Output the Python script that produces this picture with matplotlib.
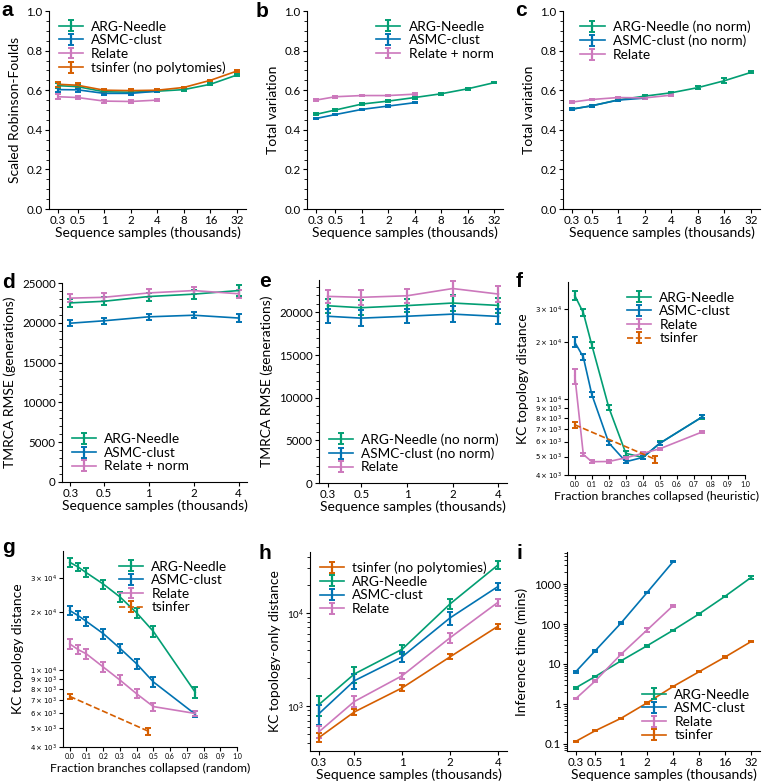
import matplotlib
matplotlib.use('Agg')
import matplotlib.pyplot as plt
from matplotlib.ticker import AutoMinorLocator, FixedLocator, NullLocator, FixedFormatter
from matplotlib.container import ErrorbarContainer
from matplotlib.legend_handler import HandlerErrorbar

plt.rcParams['font.family'] = ['Lato', 'DejaVu Sans']
plt.rcParams['mathtext.fontset'] = 'dejavusans'

GREEN = '#029e73'
BLUE = '#0173b2'
PINK = '#cc78bc'
ORANGE = '#d55e00'

# sample sizes (thousands)
n8 = [0.3, 0.5, 1, 2, 4, 8, 16, 32]
n5 = [0.3, 0.5, 1, 2, 4]
n_labels = ['0.3', '0.5', '1', '2', '4', '8', '16', '32']

# a: scaled Robinson-Foulds
a_argn = [0.623, 0.618, 0.592, 0.590, 0.595, 0.603, 0.630, 0.677]
a_argn_err = [0.012, 0.010, 0.008, 0.008, 0.006, 0.005, 0.005, 0.005]
a_asmc = [0.603, 0.602, 0.584, 0.584, 0.595]
a_asmc_err = [0.012, 0.010, 0.009, 0.008, 0.006]
a_relate = [0.567, 0.563, 0.545, 0.543, 0.550]
a_relate_err = [0.012, 0.008, 0.008, 0.007, 0.005]
a_tsinfer = [0.630, 0.625, 0.600, 0.598, 0.600, 0.614, 0.650, 0.697]
a_tsinfer_err = [0.012, 0.010, 0.008, 0.006, 0.005, 0.004, 0.004, 0.004]

# b: total variation (Relate normalised)
b_argn = [0.478, 0.500, 0.530, 0.545, 0.563, 0.582, 0.607, 0.638]
b_asmc = [0.457, 0.477, 0.503, 0.520, 0.537]
b_relate = [0.550, 0.567, 0.573, 0.573, 0.580]
b_err8 = [0.005, 0.005, 0.004, 0.006, 0.005, 0.004, 0.004, 0.004]
b_err5 = [0.004, 0.004, 0.004, 0.004, 0.004]

# c: total variation (no norm)
c_argn = [0.505, 0.521, 0.551, 0.570, 0.587, 0.613, 0.648, 0.690]
c_argn_err = [0.005, 0.005, 0.006, 0.008, 0.006, 0.006, 0.012, 0.005]
c_asmc = [0.504, 0.521, 0.550, 0.560]
c_relate = [0.540, 0.553, 0.563, 0.561, 0.575]

# d: TMRCA RMSE (Relate normalised)
d_argn = [22500, 22700, 23300, 23600, 24050]
d_argn_err = [500, 500, 500, 550, 700]
d_asmc = [19950, 20250, 20750, 20950, 20600]
d_asmc_err = [400, 400, 400, 400, 450]
d_relate = [23100, 23200, 23750, 24050, 23650]
d_relate_err = [500, 500, 500, 450, 500]

# e: TMRCA RMSE (no norm)
e_argn = [20780, 20550, 20800, 21100, 20820]
e_asmc = [19550, 19330, 19550, 19800, 19530]
e_relate = [21880, 21770, 21950, 22800, 22150]
e_err = [800, 900, 800, 900, 900]

# f, g: KC topology distance vs fraction of branches collapsed
frac = [0, 0.05, 0.1, 0.2, 0.3, 0.4, 0.5, 0.75]
frac_tsinfer = [0, 0.47]
f_argn = [35200, 28600, 19300, 9050, 5200, 4950, 5880, 8100]
f_argn_err = [1800, 1200, 700, 300, 150, 120, 150, 200]
f_asmc = [20000, 16700, 10600, 5900, 4700, 4950, 5880, 8100]
f_asmc_err = [1200, 600, 300, 120, 100, 100, 120, 150]
f_relate = [13300, 5130, 4700, 4710, 4930, 5200, 5500, 6750]
f_relate_err = [1200, 80, 80, 70, 70, 70, 80, 100]
f_tsinfer = [7350, 4850]
f_tsinfer_err = [250, 200]

g_argn = [36300, 34300, 32000, 28000, 24000, 19850, 15900, 7700]
g_argn_err = [2000, 1800, 1700, 1500, 1300, 1100, 1000, 500]
g_asmc = [20400, 19200, 17900, 15500, 13000, 10800, 8700, 5920]
g_asmc_err = [1100, 1000, 1000, 900, 750, 600, 500, 200]
g_relate = [13700, 12800, 12150, 10400, 8900, 7550, 6480, 5970]
g_relate_err = [800, 700, 700, 600, 500, 400, 300, 200]
g_tsinfer = [7320, 4830]
g_tsinfer_err = [250, 200]

# h: KC topology-only distance
h_tsinfer = [460, 865, 1570, 3380, 7200]
h_tsinfer_err = [50, 70, 130, 200, 400]
h_argn = [1040, 2210, 4080, 12500, 32700]
h_argn_err = [250, 420, 450, 1600, 3000]
h_asmc = [830, 1870, 3380, 8850, 19200]
h_asmc_err = [200, 350, 400, 1500, 1700]
h_relate = [530, 1120, 2120, 5420, 13000]
h_relate_err = [80, 150, 150, 700, 1200]

# i: inference time (mins)
i_argn = [2.53, 4.8, 12.0, 28.6, 70, 180, 500, 1480]
i_argn_err = [0.1, 0.2, 0.5, 1.2, 3, 7, 20, 120]
i_asmc = [6.4, 21.1, 106, 617, 3660]
i_asmc_err = [0.3, 1.0, 6, 30, 150]
i_relate = [1.35, 3.7, 17.5, 71, 289]
i_relate_err = [0.06, 0.2, 0.9, 8, 15]
i_tsinfer = [0.115, 0.211, 0.435, 1.06, 2.73, 6.4, 15, 36.6]
i_tsinfer_err = [0.004, 0.006, 0.01, 0.05, 0.1, 0.2, 0.5, 1.5]

LAB = 10
TICK = 8.3
LEG = 9.8
SMALL = 5


def ebar(ax, x, y, err, color, label, ls='-'):
    ax.errorbar(x, y, yerr=err, color=color, label=label, ls=ls, lw=1.2,
                elinewidth=1.6, capsize=2, capthick=1.4)


def style(ax):
    for s in ['top', 'right']:
        ax.spines[s].set_visible(False)
    for s in ['left', 'bottom']:
        ax.spines[s].set_linewidth(0.8)
    ax.tick_params(labelsize=TICK, length=3, width=0.8, pad=1.5)
    ax.tick_params(which='minor', length=2, width=0.6)


def seq_axis(ax, xs):
    ax.set_xscale('log')
    ax.xaxis.set_major_locator(FixedLocator(xs))
    ax.xaxis.set_minor_locator(NullLocator())
    ax.xaxis.set_major_formatter(FixedFormatter(n_labels[:len(xs)]))
    ax.set_xlabel('Sequence samples (thousands)', fontsize=LAB, labelpad=0.5)


def frac_axis(ax, kind, ys):
    ax.set_yscale('log')
    ax.set_xlim(-0.04, 1.0)
    ax.set_ylim(4000, 41500)
    ax.set_xticks([i / 10 for i in range(11)])
    ax.set_xticklabels(['%.1f' % (i / 10) for i in range(11)])
    ax.yaxis.set_minor_locator(NullLocator())
    ax.yaxis.set_major_locator(FixedLocator(ys))
    labs = []
    for v in ys:
        e = len(str(v)) - 1
        labs.append(r'$%d\times10^{%d}$' % (v // 10 ** e, e))
    ax.yaxis.set_major_formatter(FixedFormatter(labs))
    ax.set_xlabel('Fraction branches collapsed (%s)' % kind, fontsize=8.8, labelpad=2)
    ax.set_ylabel('KC topology distance', fontsize=LAB)


def legend(ax, loc, order=None):
    h, l = ax.get_legend_handles_labels()
    if order is not None:
        h = [h[k] for k in order]
        l = [l[k] for k in order]
    ax.legend(h, l, loc=loc, frameon=False, fontsize=LEG, labelspacing=0.12,
              handlelength=1.8, handletextpad=0.6, borderaxespad=0.3,
              handler_map={ErrorbarContainer: HandlerErrorbar(xerr_size=0.4, yerr_size=0.4)})


fig = plt.figure(figsize=(7.62, 7.84), dpi=100)
W, H = 762.0, 784.0


def add_ax(l, r, t, b):
    return fig.add_axes([l / W, 1 - b / H, (r - l) / W, (b - t) / H])


# a
ax = add_ax(49, 246, 11, 209)
ebar(ax, n8, a_argn, a_argn_err, GREEN, 'ARG-Needle')
ebar(ax, n5, a_asmc, a_asmc_err, BLUE, 'ASMC-clust')
ebar(ax, n5, a_relate, a_relate_err, PINK, 'Relate')
ebar(ax, n8, a_tsinfer, a_tsinfer_err, ORANGE, 'tsinfer (no polytomies)')
ax.set_ylim(0, 1.0)
ax.yaxis.set_minor_locator(AutoMinorLocator())
ax.set_ylabel('Scaled Robinson-Foulds', fontsize=LAB)
seq_axis(ax, n8)
style(ax)
legend(ax, 'upper left')

# b
ax = add_ax(307, 503, 11, 209)
ebar(ax, n8, b_argn, b_err8, GREEN, 'ARG-Needle')
ebar(ax, n5, b_asmc, b_err5, BLUE, 'ASMC-clust')
ebar(ax, n5, b_relate, b_err5, PINK, 'Relate + norm')
ax.set_ylim(0, 1.0)
ax.yaxis.set_minor_locator(AutoMinorLocator())
ax.set_ylabel('Total variation', fontsize=LAB)
seq_axis(ax, n8)
style(ax)
legend(ax, 'upper right')

# c
ax = add_ax(563, 760, 11, 209)
ebar(ax, n8, c_argn, c_argn_err, GREEN, 'ARG-Needle (no norm)')
ebar(ax, n5[:4], c_asmc, b_err5[:4], BLUE, 'ASMC-clust (no norm)')
ebar(ax, n5, c_relate, b_err5, PINK, 'Relate')
ax.set_ylim(0, 1.0)
ax.yaxis.set_minor_locator(AutoMinorLocator())
ax.set_ylabel('Total variation', fontsize=LAB)
seq_axis(ax, n8)
style(ax)
legend(ax, 'upper right')

# d
ax = add_ax(62, 247, 283, 482)
ebar(ax, n5, d_argn, d_argn_err, GREEN, 'ARG-Needle')
ebar(ax, n5, d_asmc, d_asmc_err, BLUE, 'ASMC-clust')
ebar(ax, n5, d_relate, d_relate_err, PINK, 'Relate + norm')
ax.set_ylim(0, 25000)
ax.yaxis.set_minor_locator(AutoMinorLocator())
ax.set_ylabel('TMRCA RMSE (generations)', fontsize=LAB)
seq_axis(ax, n5)
style(ax)
legend(ax, 'lower left')

# e
ax = add_ax(319, 507, 280, 483)
ebar(ax, n5, e_argn, e_err, GREEN, 'ARG-Needle (no norm)')
ebar(ax, n5, e_asmc, e_err, BLUE, 'ASMC-clust (no norm)')
ebar(ax, n5, e_relate, e_err, PINK, 'Relate')
ax.set_ylim(0, 23800)
ax.set_yticks([0, 5000, 10000, 15000, 20000])
ax.yaxis.set_minor_locator(AutoMinorLocator())
ax.set_ylabel('TMRCA RMSE (generations)', fontsize=LAB)
seq_axis(ax, n5)
style(ax)
legend(ax, 'lower left')

kc_ticks = [4000, 5000, 6000, 7000, 8000, 9000, 10000, 20000, 30000]

# f
ax = add_ax(568, 745, 282, 475)
ebar(ax, frac, f_argn, f_argn_err, GREEN, 'ARG-Needle')
ebar(ax, frac, f_asmc, f_asmc_err, BLUE, 'ASMC-clust')
ebar(ax, frac, f_relate, f_relate_err, PINK, 'Relate')
ebar(ax, frac_tsinfer, f_tsinfer, f_tsinfer_err, ORANGE, 'tsinfer', ls='--')
frac_axis(ax, 'heuristic', kc_ticks)
style(ax)
ax.tick_params(labelsize=SMALL)
legend(ax, 'upper right')

# g
ax = add_ax(63, 237, 551, 747)
ebar(ax, frac, g_argn, g_argn_err, GREEN, 'ARG-Needle')
ebar(ax, frac, g_asmc, g_asmc_err, BLUE, 'ASMC-clust')
ebar(ax, frac, g_relate, g_relate_err, PINK, 'Relate')
ebar(ax, frac_tsinfer, g_tsinfer, g_tsinfer_err, ORANGE, 'tsinfer', ls='--')
frac_axis(ax, 'random', kc_ticks)
style(ax)
ax.tick_params(labelsize=SMALL)
legend(ax, 'upper right')

# h
ax = add_ax(310, 507, 552, 751)
ebar(ax, n5, h_argn, h_argn_err, GREEN, 'ARG-Needle')
ebar(ax, n5, h_asmc, h_asmc_err, BLUE, 'ASMC-clust')
ebar(ax, n5, h_relate, h_relate_err, PINK, 'Relate')
ebar(ax, n5, h_tsinfer, h_tsinfer_err, ORANGE, 'tsinfer (no polytomies)')
ax.set_yscale('log')
ax.set_ylim(330, 45000)
ax.set_ylabel('KC topology-only distance', fontsize=LAB)
seq_axis(ax, n5)
style(ax)
ax.tick_params(axis='y', labelsize=7)
legend(ax, 'upper left', order=[3, 0, 1, 2])

# i
ax = add_ax(567, 760, 552, 751)
ebar(ax, n8, i_argn, i_argn_err, GREEN, 'ARG-Needle')
ebar(ax, n5, i_asmc, i_asmc_err, BLUE, 'ASMC-clust')
ebar(ax, n5, i_relate, i_relate_err, PINK, 'Relate')
ebar(ax, n8, i_tsinfer, i_tsinfer_err, ORANGE, 'tsinfer')
ax.set_yscale('log')
ax.set_ylim(0.066, 6400)
ax.yaxis.set_major_locator(FixedLocator([0.1, 1, 10, 100, 1000]))
ax.yaxis.set_major_formatter(FixedFormatter(['0.1', '1', '10', '100', '1000']))
ax.set_ylabel('Inference time (mins)', fontsize=LAB)
seq_axis(ax, n8)
style(ax)
legend(ax, 'lower right')

# panel letters
letters = [('a', 1, 16), ('b', 256, 17), ('c', 515, 16),
           ('d', 2, 288), ('e', 259, 287), ('f', 516, 287),
           ('g', 2, 553), ('h', 259, 559), ('i', 517, 559)]
for s, x, y in letters:
    fig.text(x / W, 1 - y / H, s, fontsize=15, fontweight='bold',
             family='Liberation Sans', va='baseline', ha='left')

fig.savefig('out.png', dpi=100)
